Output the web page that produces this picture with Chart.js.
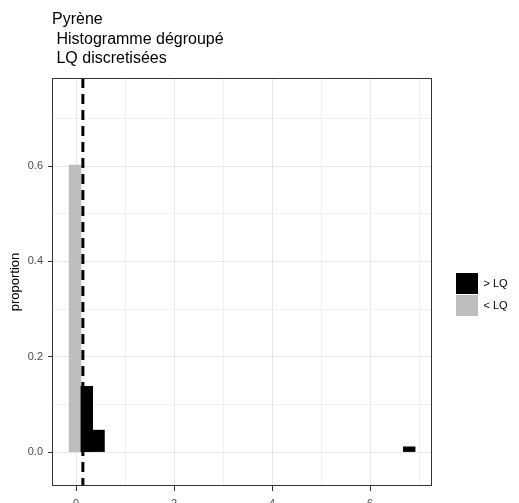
<!DOCTYPE html>
<html>
<head>
<meta charset="utf-8">
<script src="https://cdn.jsdelivr.net/npm/chart.js@4.4.0/dist/chart.umd.min.js"></script>
<style>
  html, body { margin: 0; padding: 0; background: #fff; }
  #wrap { width: 519px; height: 503px; }
</style>
</head>
<body>
<div id="wrap"><canvas id="chart" width="519" height="503"></canvas></div>
<script>
// histogram bins (centres) and proportions
const belowLqCentres = [-0.02];
const belowLqValues = [0.602];
const aboveLqCentres = [0.22, 0.46, 6.80];
const aboveLqValues = [0.138, 0.046, 0.011];
const lqValue = 0.14;

const xTickValues = [0, 1, 2, 3, 4, 5, 6, 7];
const xTickLabels = ["0", "", "2", "", "4", "", "6", ""];
const yTickValues = [0, 0.1, 0.2, 0.3, 0.4, 0.5, 0.6, 0.7];
const yTickLabels = ["0.0", "", "0.2", "", "0.4", "", "0.6", ""];

const titleLines = ["Pyrène", " Histogramme dégroupé", " LQ discretisées"];

const FONT = "'Liberation Sans', Arial, Helvetica, sans-serif";
Chart.defaults.font.family = FONT;

const toPoints = (xs, ys) => xs.map((x, i) => ({ x: x, y: ys[i] }));

const isMajor = (labels, ctx) => labels[ctx.index] !== "" && labels[ctx.index] !== undefined;

// ggplot-ish frame, title and the LQ dashed line
const extras = {
  id: "extras",
  beforeLayout(chart) {
    const lg = chart.legend;
    if (lg && !lg._patched) {
      const origFit = lg.fit;
      lg.fit = function () {
        origFit.call(this);
        this.width = 87;
      };
      lg._patched = true;
    }
  },
  afterLayout(chart) {
    const lg = chart.legend;
    lg.left = chart.chartArea.right + 23;
    lg.right = lg.left + 64;
    lg.top = 272;
  },
  afterDatasetsDraw(chart) {
    const { ctx, chartArea, scales } = chart;
    const x = scales.x.getPixelForValue(lqValue);
    ctx.save();
    ctx.strokeStyle = "#000";
    ctx.lineWidth = 3;
    ctx.setLineDash([10, 6]);
    ctx.beginPath();
    ctx.moveTo(x, chartArea.top);
    ctx.lineTo(x, chartArea.bottom);
    ctx.stroke();
    ctx.setLineDash([]);
    ctx.lineWidth = 1;
    ctx.strokeStyle = "#333333";
    ctx.strokeRect(chartArea.left + 0.5, chartArea.top + 0.5,
      chartArea.right - chartArea.left - 1, chartArea.bottom - chartArea.top - 1);
    ctx.restore();
  },
  afterDraw(chart) {
    const ctx = chart.ctx;
    ctx.save();
    ctx.font = "16px " + FONT;
    ctx.fillStyle = "#000";
    ctx.textBaseline = "alphabetic";
    titleLines.forEach((line, i) => {
      ctx.fillText(line, chart.chartArea.left, 24 + i * 19.5);
    });
    ctx.restore();
  }
};

new Chart(document.getElementById("chart"), {
  type: "bar",
  data: {
    datasets: [
      {
        label: "> LQ",
        data: toPoints(aboveLqCentres, aboveLqValues),
        backgroundColor: "#000000",
        borderWidth: 0,
        stack: "h",
        barPercentage: 1,
        categoryPercentage: 1
      },
      {
        label: "< LQ",
        data: toPoints(belowLqCentres, belowLqValues),
        backgroundColor: "#BEBEBE",
        borderWidth: 0,
        stack: "h",
        barPercentage: 1,
        categoryPercentage: 1
      }
    ]
  },
  options: {
    responsive: false,
    animation: false,
    devicePixelRatio: 1,
    layout: { padding: { top: 78, left: 0, right: 0, bottom: 0 } },
    plugins: {
      tooltip: { enabled: false },
      legend: {
        position: "right",
        align: "start",
        labels: {
          boxWidth: 22,
          boxHeight: 21,
          padding: 1,
          color: "#000",
          font: { size: 11 }
        }
      }
    },
    scales: {
      x: {
        type: "linear",
        min: -0.49,
        max: 7.265,
        stacked: true,
        offset: false,
        afterBuildTicks: (s) => { s.ticks = xTickValues.map(v => ({ value: v })); },
        afterFit: (s) => { s.height = 17; },
        border: { display: false },
        grid: {
          offset: false,
          color: (ctx) => isMajor(xTickLabels, ctx) ? "#E6E6E6" : "#F0F0F0",
          lineWidth: 1,
          tickLength: 5,
          tickColor: (ctx) => isMajor(xTickLabels, ctx) ? "#333333" : "rgba(0,0,0,0)"
        },
        ticks: {
          autoSkip: false,
          maxRotation: 0,
          padding: 6,
          color: "#4D4D4D",
          font: { size: 11 },
          callback: (v, i) => xTickLabels[i]
        }
      },
      y: {
        min: -0.0712,
        max: 0.785,
        stacked: true,
        afterBuildTicks: (s) => { s.ticks = yTickValues.map(v => ({ value: v })); },
        afterFit: (s) => { s.width = 52; },
        border: { display: false },
        grid: {
          color: (ctx) => isMajor(yTickLabels, ctx) ? "#E6E6E6" : "#F0F0F0",
          lineWidth: 1,
          tickLength: 4,
          tickColor: (ctx) => isMajor(yTickLabels, ctx) ? "#333333" : "rgba(0,0,0,0)"
        },
        ticks: {
          autoSkip: false,
          padding: 5,
          color: "#4D4D4D",
          font: { size: 11 },
          callback: (v, i) => yTickLabels[i]
        },
        title: {
          display: true,
          text: "proportion",
          color: "#000",
          font: { size: 13 },
          padding: { top: 8, bottom: 0 }
        }
      }
    }
  },
  plugins: [extras]
});
</script>
</body>
</html>
